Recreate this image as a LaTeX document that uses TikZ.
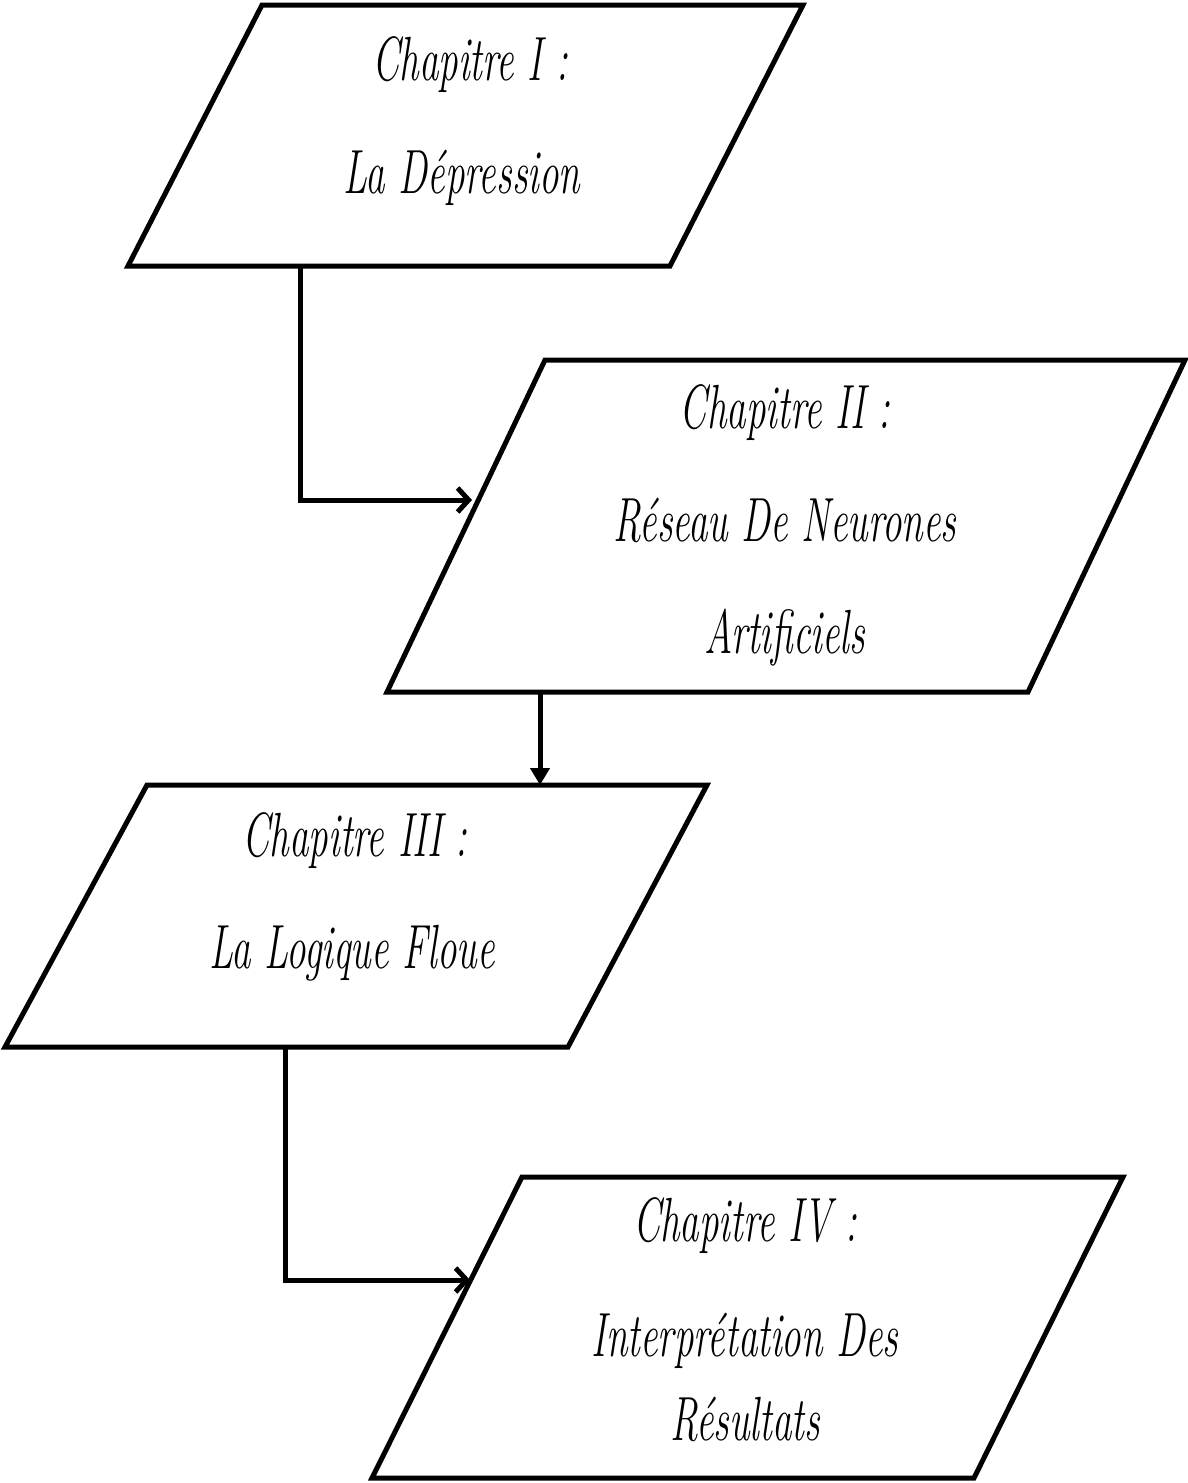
\documentclass[tikz,border=0pt]{standalone}
\usetikzlibrary{arrows.meta}
\newcommand{\tallt}[1]{\scalebox{1}[1.6]{#1}}
\begin{document}
\begin{tikzpicture}[x=1pt,y=-1pt]
\tikzset{
  box/.style={draw=black, line width=5pt, line join=miter, fill=white},
  lbl/.style={font=\fontsize{39}{44}\selectfont\itshape, anchor=base, inner sep=0pt},
  conn/.style={draw=black, line width=5pt, line join=miter},
  openarr/.style={conn, -{Straight Barb[length=11pt,width=24pt,line width=5pt]}},
  fillarr/.style={conn, -{Triangle[length=17pt,width=19pt]}}
}
\useasboundingbox (0,0) rectangle (1188,1483);
% boxes
\draw[box] (262,5) -- (803,5) -- (670,266) -- (128,266) -- cycle;
\draw[box] (545,360) -- (1185,360) -- (1028,692) -- (387,692) -- cycle;
\draw[box] (147,785) -- (707,785) -- (568,1047) -- (5,1047) -- cycle;
\draw[box] (522,1177) -- (1123,1177) -- (974,1478) -- (372,1478) -- cycle;
% labels
\node[lbl] (t1a) at (470,80) {\tallt{Chapitre I :}};
\node[lbl] (t1b) at (462,193) {\tallt{La Dépression}};
\node[lbl] (t2a) at (785,428) {\tallt{Chapitre II :}};
\node[lbl] (t2b) at (785,541) {\tallt{Réseau De Neurones}};
\node[lbl] (t2c) at (785,653) {\tallt{Artificiels}};
\node[lbl] (t3a) at (355,856) {\tallt{Chapitre III :}};
\node[lbl] (t3b) at (352,968) {\tallt{La Logique Floue}};
\node[lbl] (t4a) at (745,1241) {\tallt{Chapitre IV :}};
\node[lbl] (t4b) at (745,1356) {\tallt{Interprétation Des}};
\node[lbl] (t4c) at (745,1440) {\tallt{Résultats}};
% connector points
\coordinate (c1s) at (300,266);
\coordinate (c1b) at (300,500);
\coordinate (c1e) at (472,500);
\coordinate (c2s) at (540,692);
\coordinate (c2e) at (540,785);
\coordinate (c3s) at (285,1047);
\coordinate (c3b) at (285,1280);
\coordinate (c3e) at (470,1280);
\draw[openarr] (c1s) -- (c1b) -- (c1e);
\draw[fillarr] (c2s) -- (c2e);
\draw[openarr] (c3s) -- (c3b) -- (c3e);
\end{tikzpicture}
\end{document}
